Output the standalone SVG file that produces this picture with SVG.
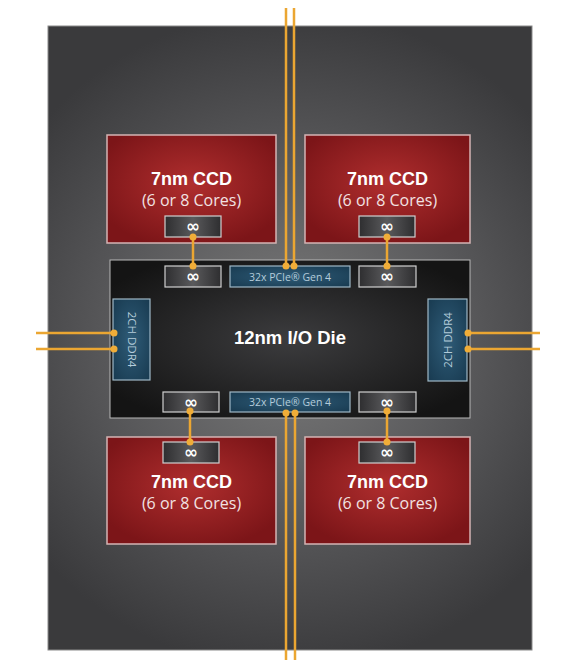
<svg xmlns="http://www.w3.org/2000/svg" width="588" height="669" viewBox="0 0 588 669">
<defs>
<radialGradient id="pkg" cx="290" cy="340" r="330" gradientUnits="userSpaceOnUse">
<stop offset="0" stop-color="#7c7c7c"/>
<stop offset="0.55" stop-color="#58585a"/>
<stop offset="1" stop-color="#3a3a3c"/>
</radialGradient>
<radialGradient id="red" cx="0.5" cy="0.45" r="0.6">
<stop offset="0" stop-color="#b02e2e"/>
<stop offset="1" stop-color="#7c1518"/>
</radialGradient>
<radialGradient id="io" cx="0.5" cy="0.5" r="0.6">
<stop offset="0" stop-color="#3c3c3e"/>
<stop offset="1" stop-color="#141414"/>
</radialGradient>
<linearGradient id="inf" x1="0" y1="0" x2="1" y2="0">
<stop offset="0" stop-color="#2e2e30"/>
<stop offset="0.5" stop-color="#5a5a5c"/>
<stop offset="1" stop-color="#2e2e30"/>
</linearGradient>
<radialGradient id="blue" cx="0.5" cy="0.5" r="0.7">
<stop offset="0" stop-color="#2f5c78"/>
<stop offset="1" stop-color="#183a50"/>
</radialGradient>
</defs>
<style>
.ccd{fill:url(#red);stroke:#d4b4b4;stroke-width:1.5}
.inf{fill:url(#inf);stroke:#d0d0d0;stroke-width:1.2}
.blue{fill:url(#blue);stroke:#9fb8c6;stroke-width:1.2}
.t1{font-family:"Liberation Sans",Arial,sans-serif;font-weight:bold;font-size:18px;fill:#ffffff;text-anchor:middle}
.t2{font-family:"Open Sans","Liberation Sans",sans-serif;font-size:16px;fill:#f2e2e2;text-anchor:middle}
.sym{font-family:"DejaVu Sans",sans-serif;font-weight:bold;font-size:17px;fill:#ffffff;text-anchor:middle}
.sm{font-family:"Open Sans","Liberation Sans",sans-serif;font-size:10.5px;fill:#b4ccda;text-anchor:middle}
.ln{stroke:#eba632;stroke-width:2.5;fill:none}
.dot{fill:#f0ad38}
</style>
<rect width="588" height="669" fill="#ffffff"/>
<g id="package">
<rect x="48" y="26" width="484" height="624" fill="url(#pkg)" stroke="#8a8a8a" stroke-width="1"/>
</g>
<g id="ccd-tl">
<rect class="ccd" x="107" y="135" width="169" height="108"/>
<text class="t1" x="191.5" y="185">7nm CCD</text>
<text class="t2" x="191.5" y="206">(6 or 8 Cores)</text>
<rect class="inf" x="165" y="216" width="56" height="21"/>
<text class="sym" x="193" y="232">∞</text>
</g>
<g id="ccd-tr">
<rect class="ccd" x="305" y="135" width="165" height="108"/>
<text class="t1" x="387.5" y="185">7nm CCD</text>
<text class="t2" x="387.5" y="206">(6 or 8 Cores)</text>
<rect class="inf" x="359" y="216" width="56" height="21"/>
<text class="sym" x="387" y="232">∞</text>
</g>
<g id="ccd-bl">
<rect class="ccd" x="107" y="437" width="169" height="107"/>
<rect class="inf" x="163" y="442" width="56" height="21"/>
<text class="sym" x="191" y="458">∞</text>
<text class="t1" x="191.5" y="488">7nm CCD</text>
<text class="t2" x="191.5" y="509">(6 or 8 Cores)</text>
</g>
<g id="ccd-br">
<rect class="ccd" x="305" y="437" width="165" height="107"/>
<rect class="inf" x="359" y="442" width="56" height="21"/>
<text class="sym" x="387" y="458">∞</text>
<text class="t1" x="387.5" y="488">7nm CCD</text>
<text class="t2" x="387.5" y="509">(6 or 8 Cores)</text>
</g>
<g id="io-die">
<rect x="110" y="260" width="360" height="158" fill="url(#io)" stroke="#b8b8b8" stroke-width="1"/>
<text class="t1" x="290" y="344" style="font-size:18.5px">12nm I/O Die</text>
</g>
<g id="io-inf-tl">
<rect class="inf" x="165" y="266" width="56" height="21"/>
<text class="sym" x="193" y="282">∞</text>
</g>
<g id="io-inf-tr">
<rect class="inf" x="359" y="266" width="57" height="21"/>
<text class="sym" x="387" y="282">∞</text>
</g>
<g id="io-inf-bl">
<rect class="inf" x="163" y="392" width="56" height="20"/>
<text class="sym" x="191" y="407.5">∞</text>
</g>
<g id="io-inf-br">
<rect class="inf" x="359" y="392" width="57" height="20"/>
<text class="sym" x="387" y="407.5">∞</text>
</g>
<g id="pcie-top">
<rect class="blue" x="230" y="266" width="120" height="21"/>
<text class="sm" x="290" y="280.5">32x PCIe® Gen 4</text>
</g>
<g id="pcie-bottom">
<rect class="blue" x="230" y="392" width="120" height="20"/>
<text class="sm" x="290" y="406">32x PCIe® Gen 4</text>
</g>
<g id="ddr-left">
<rect class="blue" x="113" y="299" width="37" height="81"/>
<text class="sm" x="0" y="0" transform="translate(127.5 339.5) rotate(90)" style="font-size:11.5px">2CH DDR4</text>
</g>
<g id="ddr-right">
<rect class="blue" x="428" y="299" width="39" height="82"/>
<text class="sm" x="0" y="0" transform="translate(451.5 340) rotate(-90)" style="font-size:11.5px">2CH DDR4</text>
</g>
<g id="connectors">
<line class="ln" x1="286" y1="8" x2="286" y2="266"/>
<line class="ln" x1="294" y1="8" x2="294" y2="266"/>
<circle class="dot" cx="286" cy="266" r="3.5"/>
<circle class="dot" cx="294" cy="266" r="3.5"/>
<line class="ln" x1="286" y1="413" x2="286" y2="660"/>
<line class="ln" x1="295" y1="413" x2="295" y2="660"/>
<circle class="dot" cx="286" cy="413" r="3.5"/>
<circle class="dot" cx="295" cy="413" r="3.5"/>
<line class="ln" x1="193" y1="237" x2="193" y2="266"/>
<circle class="dot" cx="193" cy="237" r="3.5"/>
<circle class="dot" cx="193" cy="266" r="3.5"/>
<line class="ln" x1="387" y1="237" x2="387" y2="266"/>
<circle class="dot" cx="387" cy="237" r="3.5"/>
<circle class="dot" cx="387" cy="266" r="3.5"/>
<line class="ln" x1="190" y1="411" x2="190" y2="442"/>
<circle class="dot" cx="190" cy="411" r="3.5"/>
<circle class="dot" cx="190" cy="442" r="3.5"/>
<line class="ln" x1="387" y1="411" x2="387" y2="442"/>
<circle class="dot" cx="387" cy="411" r="3.5"/>
<circle class="dot" cx="387" cy="442" r="3.5"/>
<line class="ln" x1="36" y1="333" x2="114" y2="333"/>
<line class="ln" x1="36" y1="349" x2="114" y2="349"/>
<circle class="dot" cx="114" cy="333" r="3.5"/>
<circle class="dot" cx="114" cy="349" r="3.5"/>
<line class="ln" x1="468" y1="333" x2="540" y2="333"/>
<line class="ln" x1="468" y1="349" x2="540" y2="349"/>
<circle class="dot" cx="468" cy="333" r="3.5"/>
<circle class="dot" cx="468" cy="349" r="3.5"/>
</g>
</svg>
